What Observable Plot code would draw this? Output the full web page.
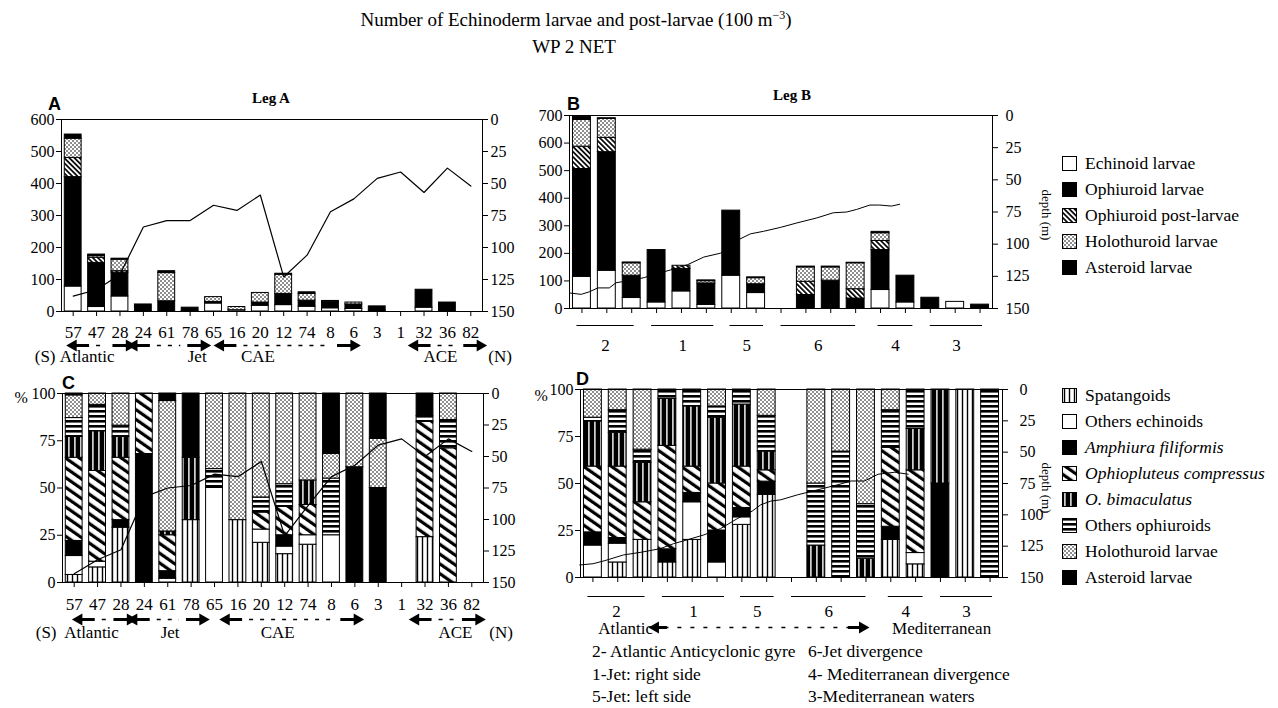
<!DOCTYPE html>
<html><head><meta charset="utf-8">
<script src="https://cdn.jsdelivr.net/npm/d3@7"></script>
<script src="https://cdn.jsdelivr.net/npm/@observablehq/plot@0.6"></script>
<style>
body{margin:0;background:#fff;}
#root{position:relative;width:1278px;height:708px;font-family:'Liberation Serif',serif;color:#000;overflow:hidden;}
.abs{position:absolute;white-space:nowrap;}
.leg{position:absolute;left:1062px;font-size:17.5px;display:flex;align-items:center;height:20px;}
.leg svg{margin-right:8px;}
</style></head>
<body>
<svg width="0" height="0" style="position:absolute">
<defs>
<pattern id="pPost" patternUnits="userSpaceOnUse" width="3.6" height="3.6" patternTransform="rotate(-45)"><rect width="3.6" height="3.6" fill="#fff"/><rect width="1.7" height="3.6" fill="#000"/></pattern>
<pattern id="pOphio" patternUnits="userSpaceOnUse" width="8" height="8" patternTransform="rotate(-55)"><rect width="8" height="8" fill="#fff"/><rect width="3.2" height="8" fill="#000"/></pattern>
<pattern id="pHolo" patternUnits="userSpaceOnUse" width="4" height="4"><rect width="4" height="4" fill="#fff"/><circle cx="1" cy="1" r="0.8" fill="#000"/><circle cx="3" cy="3" r="0.8" fill="#000"/></pattern>
<pattern id="pSpat" patternUnits="userSpaceOnUse" width="5" height="4"><rect width="5" height="4" fill="#fff"/><rect x="1.8" width="1.4" height="4" fill="#000"/></pattern>
<pattern id="pObim" patternUnits="userSpaceOnUse" width="6" height="4"><rect width="6" height="4" fill="#000"/><rect x="2.2" width="1.4" height="4" fill="#fff"/></pattern>
<pattern id="pHoriz" patternUnits="userSpaceOnUse" width="4" height="5"><rect width="4" height="5" fill="#fff"/><rect width="4" height="2.6" fill="#000"/></pattern>
</defs></svg>
<div id="root"></div>
<script>
// ---------------- data ----------------
const stationsAC = ["57","47","28","24","61","78","65","16","20","12","74","8","6","3","1","32","36","82"];
const categoriesAB = ["Echinoid larvae","Ophiuroid larvae","Ophiuroid post-larvae","Holothuroid larvae","Asteroid larvae"];
const categoriesCD = ["Spatangoids","Others echinoids","Amphiura filiformis","Ophiopluteus compressus","O. bimaculatus","Others ophiuroids","Holothuroid larvae","Asteroid larvae"];
const countTicksA = [0,100,200,300,400,500,600];
const countTicksB = [0,100,200,300,400,500,600,700];
const pctTicks = [0,25,50,75,100];
const depthTicks = [0,25,50,75,100,125,150];

// Panel A (Leg A, counts per 100 m3)
const aEchinoid  = [78,14,47,0,0,2,25,4,18,20,15,10,8,3,0,12,0,0];
const aOphiuroid = [342,138,74,22,32,10,5,0,10,35,19,20,14,13,0,56,28,0];
const aPost      = [60,16,5,0,0,0,0,0,0,0,0,0,0,0,0,0,0,0];
const aHolo      = [60,5,36,0,88,0,15,10,30,60,21,3,6,0,0,0,0,0];
const aAster     = [13,5,3,0,6,0,0,0,0,3,5,0,0,0,0,0,0,0];
const aDepth     = [138,133,121,84,79,79,67,71,59,123,106,72,62,46,41,57,38,52];

// Panel B (Leg B, counts per 100 m3), 17 stations
const bEchinoid  = [115,137,38,22,62,13,119,56,0,0,0,0,67,22,0,24,0];
const bOphiuroid = [391,430,81,190,81,78,236,32,0,49,101,36,145,97,39,0,14];
const bPost      = [81,52,0,0,12,0,0,0,0,48,0,34,33,0,0,0,0];
const bHolo      = [97,69,45,0,0,8,0,22,0,52,48,94,28,0,0,0,0];
const bAster     = [12,2,3,0,0,3,0,3,0,3,3,2,5,0,0,0,0];
const bDepthPos  = [0.53,0.97,1.3,1.64,2.1,2.37,2.97,3.5,4.0,4.57,5.24,5.9,6.57,7.0,7.24,7.77,8.3,8.97,9.64,10.44,11.1,11.64,12.04,12.57,12.97,13.44,13.77];
const bDepth     = [138,139,137,134,134,130,128,126,123,120,116,110,107,101,97,92,90,87,83.5,79.6,75.6,75,73,69.6,69.6,70.4,69];

// Panel C (Leg A, %)
const cSpat   = [4,8,29,0,0,33,0,33,21,15,20,0,0,0,0,24,0,0];
const cOecho  = [10,3,0,0,2,0,50,0,7,4,5,25,0,0,0,0,0,0];
const cAmph   = [8,0,4,68,4,0,0,0,0,6,0,0,61,50,0,0,0,0];
const cOphio  = [44,48,33,32,19,0,0,0,9,15,16,0,0,0,0,61,71,0];
const cObim   = [11,21,11,0,2,33,0,0,0,0,13,0,0,0,0,0,0,0];
const cOthoph = [10,14,6,0,0,0,10,0,8,12,0,30,0,0,0,3,15,0];
const cHolo   = [12,6,17,0,69,0,40,67,55,48,46,13,39,26,0,0,14,0];
const cAster  = [1,0,0,0,4,34,0,0,0,0,0,32,0,24,0,12,0,0];
const cDepth  = [143,132,124,82,75,73,64,66,54,113,89,66,57,41,36,50,36,46];

// Panel D (Leg B, %)
const dSpat   = [0,8,20,8,20,0,28,44,0,0,0,0,20,7,0,100,0];
const dOecho  = [17,10,0,0,20,8,4,0,0,0,0,0,0,6,0,0,0];
const dAmph   = [7,3,0,7,5,17,5,7,0,0,0,0,7,0,50,0,0];
const dOphio  = [35,38,20,55,14,25,22,6,0,0,0,0,42,44,0,0,0];
const dObim   = [24,18,21,25,32,35,33,10,0,17,0,10,0,22,50,0,0];
const dOthoph = [2,12,7,5,9,6,8,19,0,33,67,29,20,21,0,0,100];
const dHolo   = [15,11,32,0,0,9,0,14,0,50,33,61,11,0,0,0,0];
const dAster  = [0,0,0,0,0,0,0,0,0,0,0,0,0,0,0,0,0];
const dDepthPos = [0.47,1.01,1.49,2.23,2.9,3.71,4.25,4.79,5.47,6.14,6.82,7.42,7.76,8.17,8.57,9.25,10.06,10.87,11.4,11.94,12.49,13.16,13.7];
const dDepth    = [140,139,136.5,132,130,127,123,120,116,111,103,97,92,89,88,84,80,76,73,73,67.6,66,67.6];

// Leg B water-mass groups (station spans)
const groupLabels = ["2","1","5","6","4","3"];
const groupFrom   = [0.8,3.8,6.95,9.0,12.9,15.0];
const groupTo     = [3.1,6.3,8.3,12.0,14.3,17.1];

// Leg A frontal regions (station spans) for panels A and C
const regionNames = ["Atlantic","Jet","CAE","ACE"];
const regionFromC = [1.2,3.55,7.5,15.6];
const regionToC   = [3.4,6.5,13.1,18.3];
const regionAtC   = [1.74,5.1,9.7,17.3];
const regionFromA = [1.0,3.6,7.3,15.6];
const regionToA   = [3.4,6.6,13.0,18.4];
const regionAtA   = [1.6,6.3,8.9,16.7];

// ---------------- fills ----------------
const fillsAB = ["white","black","url(#pPost)","url(#pHolo)","black"];
const fillsCD = ["url(#pSpat)","white","black","url(#pOphio)","url(#pObim)","url(#pHoriz)","url(#pHolo)","black"];
const italicCD = [false,false,true,true,true,false,false,false];

function stackRows(series, fills, n) {
  const rows = [];
  for (let i = 0; i < n; i++) series.forEach((s, k) => { if (s[i] > 0) rows.push({i: i + 1, v: s[i], fill: fills[k]}); });
  return rows;
}
const HW = 0.36;
const baseStyle = {fontFamily: "'Liberation Serif', serif", fontSize: "16px", background: "transparent", overflow: "visible"};
const root = document.getElementById("root");
function place(el, left, top) { el.style.position = "absolute"; el.style.left = left + "px"; el.style.top = top + "px"; root.appendChild(el); }

function regionMarks(from, to, at, arrowDy, textDy, nDy) {
  const R = regionNames.map((name, k) => ({name, from: from[k], to: to[k], at: at[k]}));
  const z = () => 0;
  return [
    Plot.ruleY(R, {y: z, x1: d => d.from, x2: d => d.from + 0.7, dy: arrowDy, strokeWidth: 3}),
    Plot.ruleY(R, {y: z, x1: d => d.to - 0.7, x2: d => d.to, dy: arrowDy, strokeWidth: 3}),
    Plot.ruleY(R, {y: z, x1: d => d.from + 1.0, x2: d => d.to - 1.0, dy: arrowDy, strokeWidth: 1.5, strokeDasharray: "4,7"}),
    Plot.dot(R, {x: "from", y: z, dy: arrowDy, symbol: "triangle", rotate: -90, r: 4.5, fill: "black", stroke: "none"}),
    Plot.dot(R, {x: "to", y: z, dy: arrowDy, symbol: "triangle", rotate: 90, r: 4.5, fill: "black", stroke: "none"}),
    Plot.text(R, {x: "at", y: z, dy: textDy, text: "name", fontSize: 17}),
    Plot.text(["(S)"], {x: () => -0.2, y: z, dy: textDy, fontSize: 17}),
    Plot.text(["(N)"], {x: () => 19.25, y: z, dy: nDy, fontSize: 17})
  ];
}
function groupMarks(lineDy, textDy) {
  const G = groupLabels.map((label, k) => ({label, from: groupFrom[k], to: groupTo[k]}));
  const z = () => 0;
  return [
    Plot.ruleY(G, {y: z, x1: "from", x2: "to", dy: lineDy, strokeWidth: 1}),
    Plot.text(G, {x: d => (d.from + d.to) / 2, y: z, dy: textDy, text: "label", fontSize: 17})
  ];
}

function barPanel({left, top, width, height, mL, mR, mT, mB, n, rows, ymax, yTicks, xLabels, xPad = 5, extra = []}) {
  const idx = d3.range(1, n + 1);
  const p = Plot.plot({
    width, height, marginLeft: mL, marginRight: mR, marginTop: mT, marginBottom: mB,
    x: {domain: [0.5, n + 0.5], axis: null},
    y: {domain: [0, ymax], axis: null},
    color: {type: "identity"},
    style: {...baseStyle, background: "white"},
    marks: [
      Plot.rectY(rows, {x1: d => d.i - HW, x2: d => d.i + HW, y: "v", fill: "fill", stroke: "black", strokeWidth: 1}),
      Plot.frame({stroke: "black", strokeWidth: 1}),
      Plot.axisY({ticks: yTicks, tickSize: 5, tickPadding: 2, label: null, fontSize: 16}),
      Plot.axisX({ticks: idx, tickSize: 5, tickPadding: xPad, label: null, fontSize: 17,
        tickFormat: xLabels ? (i => xLabels[i - 1]) : (() => "")}),
      ...extra
    ]
  });
  place(p, left, top);
}
function depthPanel({left, top, width, height, mL, mR, mT, mB, n, xs, ys, sw, tp}) {
  const p = Plot.plot({
    width, height, marginLeft: mL, marginRight: mR, marginTop: mT, marginBottom: mB,
    x: {domain: [0.5, n + 0.5], axis: null},
    y: {domain: [0, 150], reverse: true, axis: null},
    style: baseStyle,
    marks: [
      Plot.line(d3.range(xs.length), {x: k => xs[k], y: k => ys[k], stroke: "black", strokeWidth: sw}),
      Plot.axisY({anchor: "right", ticks: depthTicks, tickSize: 5, tickPadding: tp, label: null, fontSize: 16})
    ]
  });
  place(p, left, top);
}

// Panel A
const dimA = {left: 0, top: 100, width: 540, height: 250, mL: 61, mR: 58, mT: 19, mB: 39, n: 18};
barPanel({...dimA, rows: stackRows([aEchinoid, aOphiuroid, aPost, aHolo, aAster], fillsAB, 18), ymax: 600, yTicks: countTicksA, xLabels: stationsAC, xPad: 9,
  extra: regionMarks(regionFromA, regionToA, regionAtA, 34, 45, 45)});
depthPanel({...dimA, xs: d3.range(1, 19), ys: aDepth, sw: 1.2, tp: 3});

// Panel B
const dimB = {left: 520, top: 100, width: 520, height: 250, mL: 49, mR: 48, mT: 15, mB: 42, n: 17};
barPanel({...dimB, rows: stackRows([bEchinoid, bOphiuroid, bPost, bHolo, bAster], fillsAB, 17), ymax: 700, yTicks: countTicksB, xLabels: null,
  extra: groupMarks(17, 37)});
depthPanel({...dimB, xs: bDepthPos, ys: bDepth, sw: 1, tp: 8});

// Panel C
const dimC = {left: 0, top: 375, width: 540, height: 250, mL: 62, mR: 57, mT: 18, mB: 43, n: 18};
barPanel({...dimC, rows: stackRows([cSpat, cOecho, cAmph, cOphio, cObim, cOthoph, cHolo, cAster], fillsCD, 18), ymax: 100, yTicks: pctTicks, xLabels: stationsAC, xPad: 10,
  extra: [...regionMarks(regionFromC, regionToC, regionAtC, 37, 50, 50),
          Plot.text(["%"], {frameAnchor: "top-left", dx: -48, dy: -2, fontSize: 16})]});
depthPanel({...dimC, xs: d3.range(1, 19), ys: cDepth, sw: 1.2, tp: 3});

// Panel D
const dimD = {left: 520, top: 375, width: 520, height: 250, mL: 60, mR: 38, mT: 14, mB: 48, n: 17};
barPanel({...dimD, rows: stackRows([dSpat, dOecho, dAmph, dOphio, dObim, dOthoph, dHolo, dAster], fillsCD, 17), ymax: 100, yTicks: pctTicks, xLabels: null,
  extra: [...groupMarks(19, 34),
          Plot.text(["%"], {frameAnchor: "top-left", dx: -46, fontSize: 16}),
          Plot.text(["Atlantic"], {x: () => 3.42, y: () => 0, dy: 51, textAnchor: "end", fontSize: 17}),
          Plot.text(["Mediterranean"], {x: () => 13.05, y: () => 0, dy: 51, textAnchor: "start", fontSize: 17}),
          Plot.ruleY([0], {x1: 3.9, x2: 11.4, dy: 50, strokeWidth: 1.5, strokeDasharray: "4,9"}),
          Plot.ruleY([0], {x1: 3.5, x2: 4.0, dy: 50, strokeWidth: 3}),
          Plot.ruleY([0], {x1: 11.3, x2: 11.86, dy: 50, strokeWidth: 3}),
          Plot.dot([0], {x: () => 3.52, y: () => 0, dy: 50, symbol: "triangle", rotate: -90, r: 4.5, fill: "black", stroke: "none"}),
          Plot.dot([0], {x: () => 11.86, y: () => 0, dy: 50, symbol: "triangle", rotate: 90, r: 4.5, fill: "black", stroke: "none"})]});
depthPanel({...dimD, xs: dDepthPos, ys: dDepth, sw: 1, tp: 12});

// ---------------- text & legends ----------------
function addText(html, left, top, css = "") {
  const d = document.createElement("div"); d.className = "abs"; d.innerHTML = html;
  d.style.cssText += `left:${left}px;top:${top}px;` + css; root.appendChild(d); return d;
}
addText("Number of Echinoderm larvae and post-larvae (100 m<sup style='font-size:12px'>&minus;3</sup>)", 576, 8, "font-size:19px;transform:translateX(-50%);");
addText("WP 2 NET", 574, 36, "font-size:19px;transform:translateX(-50%);");
addText("Leg A", 252, 90, "font-size:15px;font-weight:bold;");
addText("Leg B", 773, 87, "font-size:15px;font-weight:bold;");
addText("A", 48, 94, "font-family:'Liberation Sans',sans-serif;font-weight:bold;font-size:18px;");
addText("B", 567, 94, "font-family:'Liberation Sans',sans-serif;font-weight:bold;font-size:18px;");
addText("C", 62, 373, "font-family:'Liberation Sans',sans-serif;font-weight:bold;font-size:18px;");
addText("D", 576, 369, "font-family:'Liberation Sans',sans-serif;font-weight:bold;font-size:18px;");
addText("depth (m)", 1046, 215, "font-size:13px;transform:translate(-50%,-50%) rotate(90deg);");
addText("depth (m)", 1046, 488, "font-size:13px;transform:translate(-50%,-50%) rotate(90deg);");

function legend(cats, fills, italics, top0, step) {
  cats.forEach((c, k) => {
    const d = document.createElement("div"); d.className = "leg";
    d.style.top = (top0 + k * step - 10) + "px";
    d.innerHTML = `<svg width="15" height="15"><rect x="0.5" y="0.5" width="14" height="14" fill="${fills[k]}" stroke="#000"/></svg><span style="${italics[k] ? "font-style:italic;" : ""}">${c}</span>`;
    root.appendChild(d);
  });
}
legend(categoriesAB, fillsAB, [false,false,false,false,false], 163, 26.2);
legend(categoriesCD, fillsCD, italicCD, 395, 26.0);

addText("2- Atlantic Anticyclonic gyre", 592, 641, "font-size:17.5px;");
addText("1-Jet: right side", 592, 664, "font-size:17.5px;");
addText("5-Jet: left side", 592, 686, "font-size:17.5px;");
addText("6-Jet divergence", 808, 641, "font-size:17.5px;");
addText("4- Mediterranean divergence", 808, 664, "font-size:17.5px;");
addText("3-Mediterranean waters", 808, 686, "font-size:17.5px;");
</script>
</body></html>
